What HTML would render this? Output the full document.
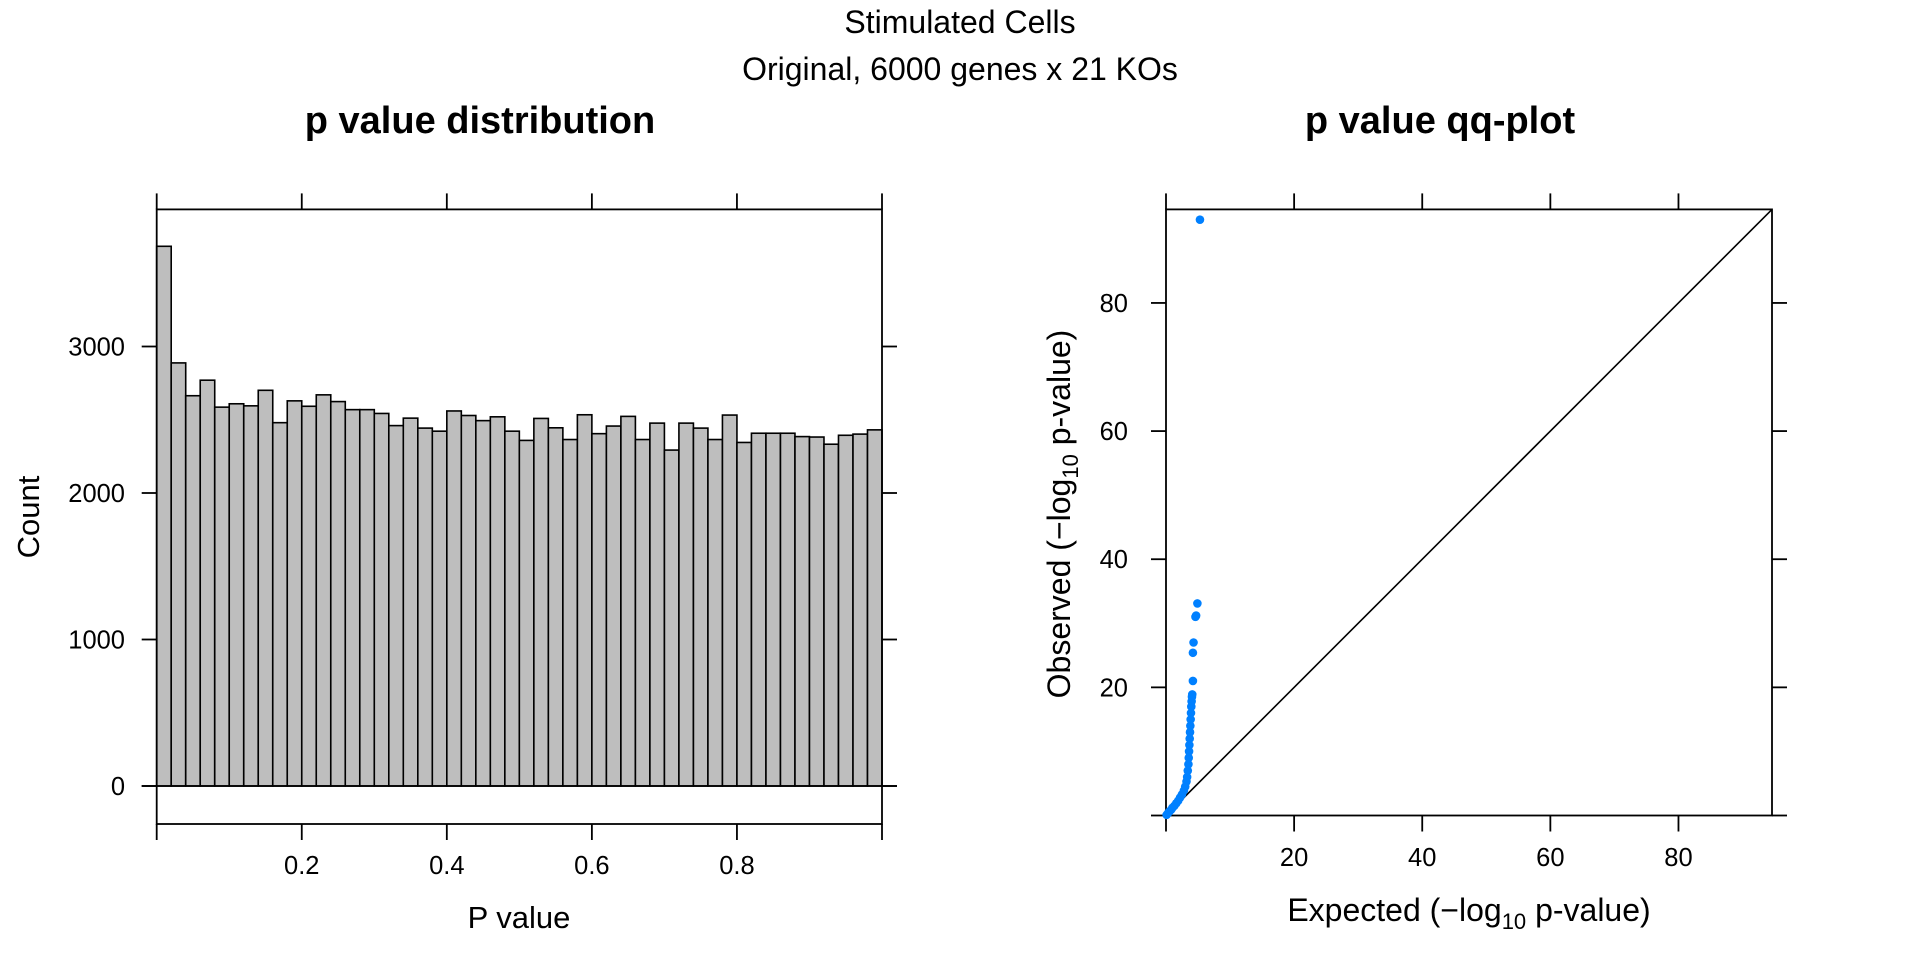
<!DOCTYPE html>
<html><head><meta charset="utf-8"><style>
body{margin:0;background:#fff;}
svg{display:block;font-family:"Liberation Sans",Arial,sans-serif;}
</style></head><body>
<svg id="fig" width="1920" height="960" viewBox="0 0 1920 960">
<text x="960" y="33" font-size="32" text-anchor="middle">Stimulated Cells</text>
<text x="960" y="80" font-size="32" text-anchor="middle">Original, 6000 genes x 21 KOs</text>
<text x="480" y="133" font-size="38" font-weight="bold" text-anchor="middle">p value distribution</text>
<text x="1440" y="133" font-size="38" font-weight="bold" text-anchor="middle">p value qq-plot</text>
<g id="hist"></g>
<g id="qq"></g>
<text x="519" y="928" font-size="31" text-anchor="middle">P value</text>
<text transform="translate(39,517) rotate(-90)" font-size="31" text-anchor="middle">Count</text>
<text x="1469" y="921" font-size="32" text-anchor="middle">Expected (−log<tspan font-size="22" dy="8">10</tspan><tspan dy="-8"> p-value)</tspan></text>
<text transform="translate(1070,514) rotate(-90)" font-size="32" text-anchor="middle">Observed (−log<tspan font-size="22" dy="8">10</tspan><tspan dy="-8"> p-value)</tspan></text>
</svg>
<script>
const histCounts=[3684,2888,2664,2770,2586,2609,2595,2701,2480,2629,2592,2670,2624,2569,2569,2543,2460,2511,2443,2422,2560,2529,2494,2520,2422,2359,2509,2445,2365,2534,2405,2457,2523,2365,2477,2293,2477,2443,2365,2532,2345,2408,2408,2408,2385,2382,2333,2394,2402,2431];
const histXTicks=[0,0.2,0.4,0.6,0.8,1];
const histXLabels=["","0.2","0.4","0.6","0.8",""];
const histYTicks=[0,1000,2000,3000];
const histYLabels=["0","1000","2000","3000"];
const qqExpected=[0.1,0.3,0.5,0.8,1.0,1.3,1.6,1.9,2.2,2.5,2.8,3.0,3.2,3.3,3.4,3.5,3.55,3.6,3.65,3.7,3.75,3.8,3.85,3.9,3.95,4.0,4.05,4.1,4.2,4.2,4.3,4.6,4.7,4.9,5.3];
const qqObserved=[0.1,0.35,0.6,0.9,1.2,1.5,1.9,2.3,2.8,3.3,3.9,4.5,5.3,6,7,8,9,10,11,12,13,14,15,16,17,17.8,18.5,18.9,21,25.4,27,31,31.2,33.1,93];
const qqTicks=[0,20,40,60,80];
const qqLabels=["","20","40","60","80"];
const NS="http://www.w3.org/2000/svg";
function mk(parent,tag,attrs){const e=document.createElementNS(NS,tag);for(const k in attrs)e.setAttribute(k,attrs[k]);parent.appendChild(e);return e;}
const hg=document.getElementById('hist');
const L=156.7,R=882,T=209.4,B=824;
const hx=v=>L+(R-L)*v;
const hy=v=>786-v*0.1465;
const bw=1/histCounts.length;
histCounts.forEach((c,i)=>{
 const r=mk(hg,'rect',{x:hx(i*bw),y:hy(c),width:hx(bw)-hx(0),height:hy(0)-hy(c),fill:'#bebebe',stroke:'#000','stroke-width':1.6});
 
 
});
mk(hg,'line',{x1:L-15,x2:R+15,y1:hy(0),y2:hy(0),stroke:'#000','stroke-width':1.8});
mk(hg,'rect',{x:L,y:T,width:R-L,height:B-T,fill:'none',stroke:'#000','stroke-width':1.8});
histXTicks.forEach((t,i)=>{
 mk(hg,'line',{x1:hx(t),x2:hx(t),y1:T,y2:T-16,stroke:'#000','stroke-width':1.8});
 mk(hg,'line',{x1:hx(t),x2:hx(t),y1:B,y2:B+16,stroke:'#000','stroke-width':1.8});
 const tx=mk(hg,'text',{x:hx(t),y:874,'font-size':25.5,'text-anchor':'middle'});tx.textContent=histXLabels[i];
 
 
});
histYTicks.forEach((t,i)=>{
 mk(hg,'line',{x1:L,x2:L-15,y1:hy(t),y2:hy(t),stroke:'#000','stroke-width':1.8});
 mk(hg,'line',{x1:R,x2:R+15,y1:hy(t),y2:hy(t),stroke:'#000','stroke-width':1.8});
 const tx=mk(hg,'text',{x:125,y:hy(t)+9,'font-size':25.5,'text-anchor':'end'});tx.textContent=histYLabels[i];
 
 
});
const qg=document.getElementById('qq');
const QL=1166,QR=1772,QT=209.4,QB=815.5,QMAX=94.6;
const qx=v=>QL+(QR-QL)*v/QMAX;
const qy=v=>QB-(QB-QT)*v/QMAX;
mk(qg,'rect',{x:QL,y:QT,width:QR-QL,height:QB-QT,fill:'none',stroke:'#000','stroke-width':1.8});
mk(qg,'line',{x1:qx(0),y1:qy(0),x2:qx(QMAX),y2:qy(QMAX),stroke:'#000','stroke-width':1.6});
qqTicks.forEach((t,i)=>{
 mk(qg,'line',{x1:qx(t),x2:qx(t),y1:QT,y2:QT-16,stroke:'#000','stroke-width':1.8});
 mk(qg,'line',{x1:qx(t),x2:qx(t),y1:QB,y2:QB+16,stroke:'#000','stroke-width':1.8});
 mk(qg,'line',{x1:QL,x2:QL-15,y1:qy(t),y2:qy(t),stroke:'#000','stroke-width':1.8});
 mk(qg,'line',{x1:QR,x2:QR+15,y1:qy(t),y2:qy(t),stroke:'#000','stroke-width':1.8});
 const a=mk(qg,'text',{x:qx(t),y:866,'font-size':25.5,'text-anchor':'middle'});a.textContent=qqLabels[i];
 
 
 const b=mk(qg,'text',{x:1128,y:qy(t)+9,'font-size':25.5,'text-anchor':'end'});b.textContent=qqLabels[i];
 
 
});
qqExpected.forEach((e,i)=>{
 const c=mk(qg,'circle',{cx:qx(e),cy:qy(qqObserved[i]),r:4.3,fill:'#0080ff'});
 
 
});
</script>
</body></html>
